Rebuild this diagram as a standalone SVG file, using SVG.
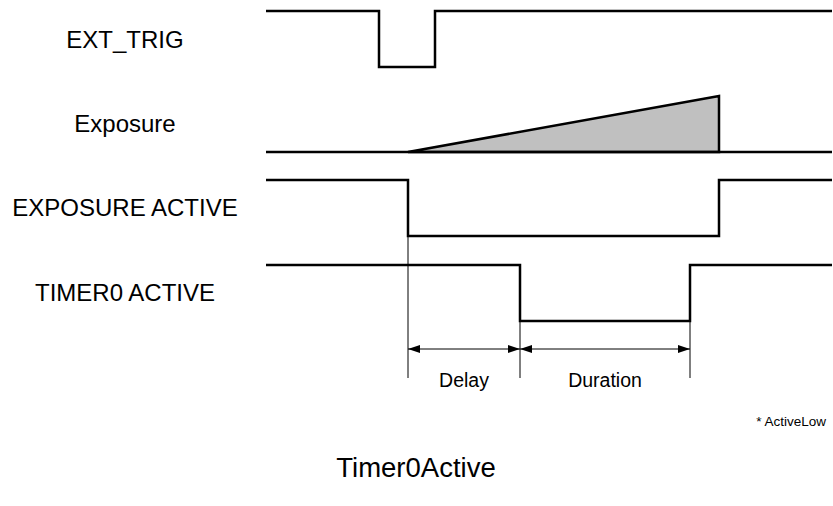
<svg xmlns="http://www.w3.org/2000/svg" width="833" height="506" viewBox="0 0 833 506">
<style>
.sig{fill:none;stroke:#000;stroke-width:2.5;stroke-linejoin:miter}
.thin{fill:none;stroke:#000;stroke-width:1}
.lbl{font-family:"Liberation Sans",Arial,sans-serif;fill:#000}
.big{font-size:24px;text-anchor:middle}
.mid{font-size:19.5px;text-anchor:middle}
</style>
<defs>
<marker id="ah" viewBox="0 0 12 8" refX="12" refY="4" markerWidth="12" markerHeight="8" markerUnits="userSpaceOnUse" orient="auto-start-reverse">
<path d="M0,0 L12,4 L0,8 z" fill="#000"/>
</marker>
</defs>
<rect width="833" height="506" fill="#fff"/>
<g id="ext_trig">
<text class="lbl big" x="125" y="48">EXT_TRIG</text>
<polyline class="sig" points="266,11 379,11 379,67 435,67 435,11 832,11"/>
</g>
<g id="exposure">
<text class="lbl big" x="125" y="132">Exposure</text>
<polygon points="408,152 719,96 719,152" fill="#c0c0c0" stroke="#000" stroke-width="2.5"/>
<line class="sig" x1="266" y1="152" x2="832" y2="152"/>
</g>
<g id="exposure_active">
<text class="lbl big" x="125" y="216">EXPOSURE ACTIVE</text>
<polyline class="sig" points="266,180 408,180 408,236 719,236 719,180 832,180"/>
</g>
<g id="timer0_active">
<text class="lbl big" x="125" y="301">TIMER0 ACTIVE</text>
<polyline class="sig" points="266,265 520,265 520,321 690,321 690,265 832,265"/>
</g>
<g id="connectors">
<line class="thin" x1="408" y1="236" x2="408" y2="378"/>
<line class="thin" x1="520" y1="321" x2="520" y2="378"/>
<line class="thin" x1="690" y1="321" x2="690" y2="378"/>
<line class="thin" stroke-width="1.5" x1="408" y1="349" x2="520" y2="349" marker-start="url(#ah)" marker-end="url(#ah)"/>
<line class="thin" stroke-width="1.5" x1="520" y1="349" x2="690" y2="349" marker-start="url(#ah)" marker-end="url(#ah)"/>
</g>
<g id="labels">
<text class="lbl mid" x="464" y="387">Delay</text>
<text class="lbl mid" x="605" y="387">Duration</text>
<text class="lbl" font-size="13.5" x="826" y="426" text-anchor="end">* ActiveLow</text>
<text class="lbl" font-size="27.5" x="416" y="477" text-anchor="middle">Timer0Active</text>
</g>
</svg>
